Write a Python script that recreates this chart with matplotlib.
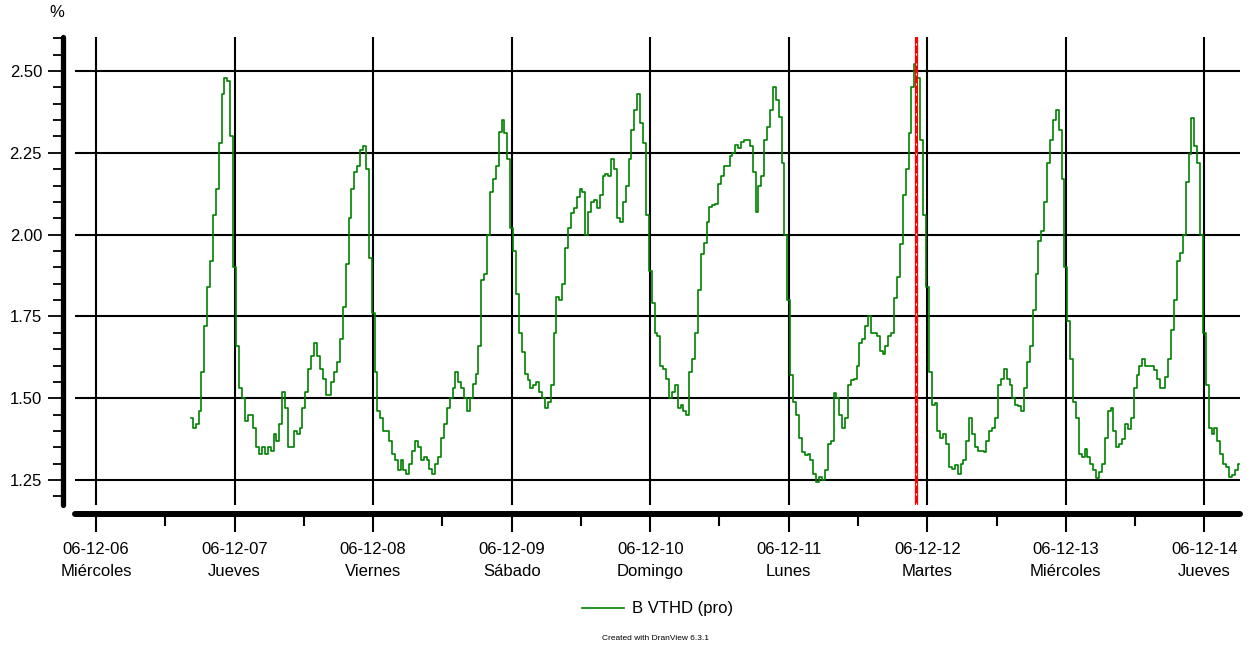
import pandas as pd
import matplotlib
matplotlib.use("Agg")
import matplotlib.pyplot as plt
import matplotlib.dates as mdates
from matplotlib.ticker import MultipleLocator, FuncFormatter

plt.rcParams['font.family'] = ['Liberation Sans', 'DejaVu Sans']

# B VTHD (pro) in %, one reading every 30 minutes starting 06-12-06 16:30
vthd_06 = [1.44, 1.41, 1.42, 1.46, 1.58, 1.72, 1.84, 1.92, 2.06, 2.14, 2.28, 2.43, 2.48, 2.47, 2.30]
vthd_07 = [1.90, 1.66, 1.53, 1.50, 1.43, 1.45, 1.45, 1.41, 1.35, 1.33, 1.35, 1.33,
           1.35, 1.34, 1.39, 1.37, 1.42, 1.52, 1.47, 1.35, 1.35, 1.40, 1.39, 1.41,
           1.47, 1.52, 1.59, 1.63, 1.67, 1.63, 1.59, 1.56, 1.51, 1.51, 1.55, 1.58,
           1.61, 1.68, 1.78, 1.91, 2.05, 2.14, 2.19, 2.21, 2.26, 2.27, 2.20, 1.93]
vthd_08 = [1.76, 1.58, 1.46, 1.44, 1.40, 1.40, 1.37, 1.33, 1.31, 1.28, 1.31, 1.28,
           1.27, 1.30, 1.34, 1.37, 1.35, 1.31, 1.32, 1.31, 1.285, 1.27, 1.30, 1.32,
           1.38, 1.42, 1.47, 1.50, 1.53, 1.58, 1.55, 1.53, 1.50, 1.46, 1.50, 1.545,
           1.575, 1.66, 1.86, 1.88, 2.00, 2.13, 2.17, 2.21, 2.315, 2.35, 2.31, 2.23]
vthd_09 = [2.02, 1.95, 1.82, 1.70, 1.64, 1.575, 1.555, 1.53, 1.54, 1.55, 1.52, 1.50,
           1.47, 1.49, 1.54, 1.70, 1.81, 1.80, 1.85, 1.96, 2.02, 2.065, 2.08, 2.116,
           2.14, 2.13, 2.00, 2.07, 2.10, 2.106, 2.08, 2.12, 2.18, 2.185, 2.18, 2.23,
           2.20, 2.05, 2.04, 2.10, 2.15, 2.23, 2.32, 2.38, 2.43, 2.34, 2.28, 2.06]
vthd_10 = [1.89, 1.79, 1.70, 1.69, 1.60, 1.59, 1.56, 1.50, 1.52, 1.54, 1.47, 1.48,
           1.46, 1.45, 1.58, 1.62, 1.70, 1.83, 1.94, 1.975, 2.04, 2.085, 2.09, 2.095,
           2.155, 2.18, 2.21, 2.21, 2.24, 2.25, 2.275, 2.265, 2.284, 2.29, 2.289, 2.27,
           2.19, 2.07, 2.15, 2.18, 2.29, 2.33, 2.38, 2.45, 2.41, 2.36, 2.22, 2.00]
vthd_11 = [1.80, 1.57, 1.49, 1.45, 1.38, 1.335, 1.326, 1.33, 1.31, 1.27, 1.245, 1.26,
           1.25, 1.28, 1.36, 1.37, 1.515, 1.50, 1.45, 1.41, 1.44, 1.54, 1.555, 1.56,
           1.60, 1.668, 1.68, 1.72, 1.75, 1.70, 1.70, 1.69, 1.645, 1.635, 1.66, 1.69,
           1.70, 1.805, 1.87, 1.97, 2.12, 2.20, 2.31, 2.45, 2.52, 2.48, 2.29, 2.06]
vthd_12 = [1.84, 1.58, 1.48, 1.485, 1.40, 1.38, 1.39, 1.36, 1.29, 1.285, 1.295, 1.27,
           1.30, 1.31, 1.37, 1.44, 1.39, 1.35, 1.34, 1.34, 1.335, 1.37, 1.40, 1.41,
           1.44, 1.54, 1.56, 1.59, 1.56, 1.54, 1.50, 1.48, 1.475, 1.46, 1.53, 1.61,
           1.66, 1.77, 1.88, 1.98, 2.01, 2.10, 2.22, 2.29, 2.35, 2.38, 2.32, 2.17]
vthd_13 = [1.90, 1.735, 1.62, 1.49, 1.44, 1.33, 1.32, 1.345, 1.32, 1.30, 1.28, 1.255,
           1.275, 1.30, 1.38, 1.46, 1.47, 1.40, 1.35, 1.36, 1.377, 1.42, 1.405, 1.44,
           1.53, 1.57, 1.60, 1.62, 1.60, 1.60, 1.60, 1.585, 1.56, 1.53, 1.53, 1.565,
           1.62, 1.71, 1.80, 1.92, 1.945, 2.00, 2.16, 2.245, 2.355, 2.27, 2.22, 2.00]
vthd_14 = [1.70, 1.54, 1.41, 1.39, 1.41, 1.37, 1.33, 1.30, 1.29, 1.26, 1.265, 1.28, 1.30]

START = "2006-12-06 16:30"
CURSOR = "2006-12-11 22:05"
DAY_NAMES = ["Lunes", "Martes", "Miércoles", "Jueves", "Viernes", "Sábado", "Domingo"]
TICK_DAYS = pd.date_range("2006-12-06", "2006-12-14", freq="D")
Y_TICKS = [1.25, 1.50, 1.75, 2.00, 2.25, 2.50]

values = vthd_06 + vthd_07 + vthd_08 + vthd_09 + vthd_10 + vthd_11 + vthd_12 + vthd_13 + vthd_14
times = pd.date_range(START, periods=len(values), freq="30min")

W, H = 1254, 646
fig = plt.figure(figsize=(W / 100, H / 100), dpi=100)
ax = fig.add_axes([75 / W, 1 - 505 / H, 1165 / W, 468 / H])

line, = ax.plot(times, values, color="#008000", lw=1.2, drawstyle="steps-mid",
                zorder=3, label="B VTHD (pro)")

# cursor: red line with small white dashes on top
ax.axvline(pd.Timestamp(CURSOR), color="red", lw=2.3, zorder=4)
ax.axvline(pd.Timestamp(CURSOR), color="white", lw=0.8, ls=(0, (1.8, 7.2)), zorder=5)

x0 = mdates.date2num(TICK_DAYS[0]) - 0.152
x1 = mdates.date2num(TICK_DAYS[-1]) + 0.257
ax.set_xlim(x0, x1)
ax.set_ylim(1.174, 2.604)

ax.set_xticks(TICK_DAYS)
ax.xaxis.set_minor_locator(mdates.HourLocator(byhour=[12]))
ax.xaxis.set_major_formatter(FuncFormatter(
    lambda v, pos: "{0:%y-%m-%d}\n{1}".format(mdates.num2date(v),
                                               DAY_NAMES[mdates.num2date(v).weekday()])))
ax.set_yticks(Y_TICKS)
ax.yaxis.set_minor_locator(MultipleLocator(0.05))
ax.yaxis.set_major_formatter(FuncFormatter(lambda v, pos: f"{v:.2f}"))

ax.grid(True, which="major", color="black", lw=1.5, zorder=1)
ax.set_axisbelow(True)

for side in ("top", "right"):
    ax.spines[side].set_visible(False)
ax.spines["left"].set_position(("outward", 8.6))
ax.spines["left"].set_linewidth(3.8)
ax.spines["bottom"].set_position(("outward", 6.5))
ax.spines["bottom"].set_linewidth(4.3)
for side in ("left", "bottom"):
    ax.spines[side].set_capstyle("round")

ax.tick_params(axis="y", which="major", length=10.8, width=1.3, labelsize=12, pad=4.3)
ax.tick_params(axis="y", which="minor", length=7.2, width=1.3)
ax.tick_params(axis="x", which="major", length=13, width=1.5, labelsize=12, pad=7)
ax.tick_params(axis="x", which="minor", length=8.6, width=1.5)
for lab in ax.get_xticklabels():
    lab.set_linespacing(1.6)

fig.text(57 / W, 1 - 12.5 / H, "%", ha="center", va="center", fontsize=12)

ax.legend(handles=[line], loc="center", bbox_to_anchor=(658 / W, 1 - 609 / H),
          bbox_transform=fig.transFigure, frameon=False, fontsize=12,
          handlelength=2.5, handletextpad=0.5)

fig.text(655 / W, 1 - 638 / H, "Created with DranView 6.3.1", ha="center",
         va="center", fontsize=6)

fig.savefig("out.png", dpi=100)
